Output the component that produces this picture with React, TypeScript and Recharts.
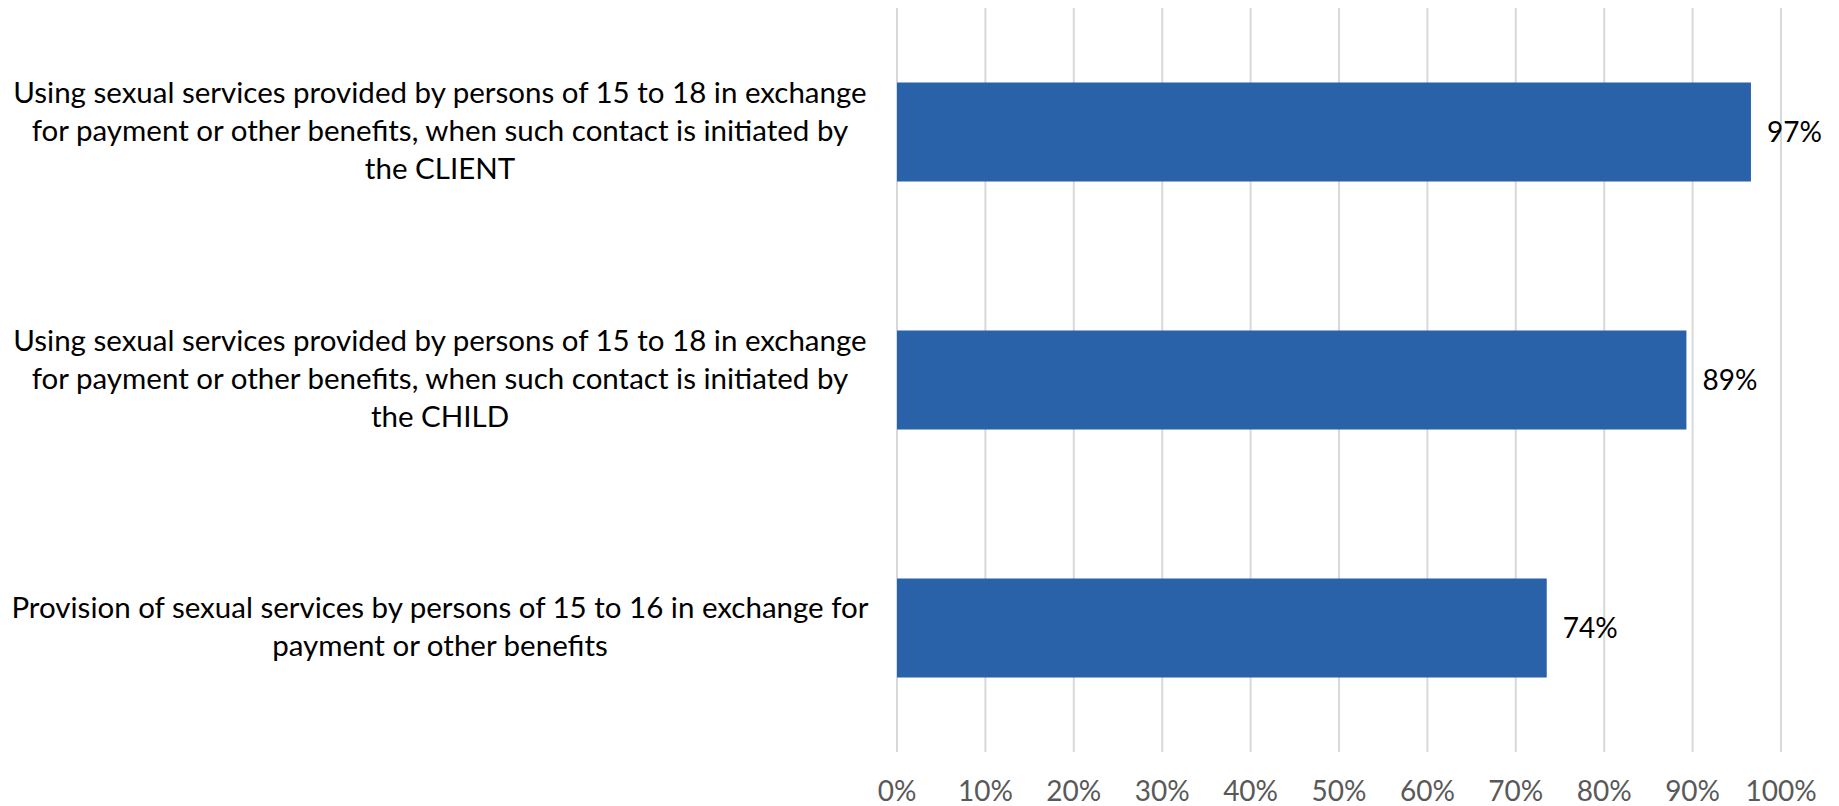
// @ts-nocheck
import { Bar, BarChart, CartesianGrid, LabelList, XAxis, YAxis } from 'recharts';

const labelLines = [
    [
        'Using sexual services provided by persons of 15 to 18 in exchange',
        'for payment or other benefits, when such contact is initiated by',
        'the CLIENT',
    ],
    [
        'Using sexual services provided by persons of 15 to 18 in exchange',
        'for payment or other benefits, when such contact is initiated by',
        'the CHILD',
    ],
    [
        'Provision of sexual services by persons of 15 to 16 in exchange for',
        'payment or other benefits',
    ],
];
const categories = labelLines.map((lines) => lines.join(' '));
const shares = [0.966, 0.893, 0.735];
const xTicks = [0, 0.1, 0.2, 0.3, 0.4, 0.5, 0.6, 0.7, 0.8, 0.9, 1];

const data = categories.map((name, i) => ({ name, share: shares[i] }));

const FONT = 'Lato, "Open Sans", sans-serif';

function pct(v) {
    return `${Math.round(v * 100)}%`;
}

function CategoryTick({ y, payload }) {
    const lines = labelLines[categories.indexOf(payload.value)] || [payload.value];
    const n = lines.length;
    return (<text x={440} y={y} textAnchor="middle" fontFamily={FONT} fontSize={29.5} fill="#000">
      {lines.map((line, i) => (<tspan key={i} x={440} y={y + (i - (n - 1) / 2) * 38 + 9}>
          {line}
        </tspan>))}
    </text>);
}

function PercentTick({ x, y, payload }) {
    return (<text x={x} y={y + 47} textAnchor="middle" fontFamily={FONT} fontSize={28} fill="#595959">
      {pct(payload.value)}
    </text>);
}

export default function App() {
    return (<div style={{ position: 'absolute', left: 0, top: 0, width: 1839, height: 806, background: '#fff' }}>
      <BarChart width={1839} height={806} data={data} layout="vertical" barCategoryGap="30%" margin={{ top: 8, right: 58, bottom: 0, left: 0 }}>
        <CartesianGrid horizontal={false} stroke="#d9d9d9" strokeWidth={2}/>
        <XAxis type="number" domain={[0, 1]} ticks={xTicks} axisLine={false} tickLine={false} tickSize={0} height={54} tick={<PercentTick />} interval={0}/>
        <YAxis type="category" dataKey="name" width={897} axisLine={false} tickLine={false} tickSize={0} tick={<CategoryTick />} interval={0}/>
        <Bar dataKey="share" fill="#2962a9" isAnimationActive={false}>
          <LabelList dataKey="share" position="right" offset={16} formatter={pct} fontFamily={FONT} fontSize={28} fill="#000"/>
        </Bar>
      </BarChart>
    </div>);
}
